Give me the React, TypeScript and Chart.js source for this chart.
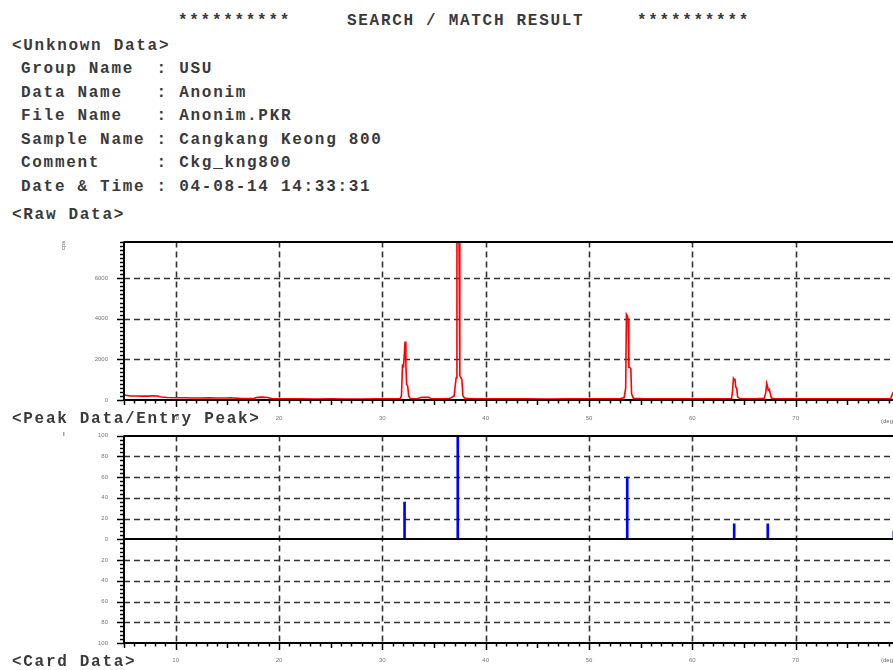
import React, { useEffect, useRef } from "react";
import { Chart, registerables } from "chart.js";
Chart.register(...registerables);

// ---------- data ----------
const rawAngle = [
  5.0, 5.2, 5.6, 6.2, 6.8, 7.4, 7.8, 8.2, 8.6, 9.2, 10.0, 10.8, 11.6, 12.4, 13.2, 14.0, 14.8, 15.4, 15.8,
  16.4, 17.0, 17.6, 17.9, 18.4, 18.9, 19.3, 20.5, 22.0, 23.5, 25.0, 26.5, 28.0, 29.5, 31.0, 31.7,
  31.85, 31.95, 32.05, 32.12, 32.2, 32.28, 32.35, 32.45, 32.55, 32.7, 33.4, 33.7, 34.0, 34.5, 34.7,
  35.5, 36.5, 36.95, 37.05, 37.15, 37.22, 37.3, 37.42, 37.5, 37.6, 37.7, 37.8, 38.0, 39.0, 40.5,
  42.0, 44.0, 46.0, 48.0, 50.0, 51.5, 53.0, 53.4, 53.55, 53.62, 53.7, 53.78, 53.86, 53.95, 54.05,
  54.12, 54.3, 55.5, 57.0, 59.0, 61.0, 63.0, 63.8, 63.9, 63.98, 64.05, 64.12, 64.2, 64.3, 64.38,
  64.6, 66.0, 66.95, 67.1, 67.2, 67.28, 67.35, 67.45, 67.55, 67.65, 68.0, 70.0, 72.0, 74.0, 76.0,
  78.0, 79.2, 79.4, 79.5, 79.6, 79.8, 80.0,
];
const rawCps = [
  260, 230, 200, 200, 190, 190, 210, 200, 150, 120, 110, 110, 100, 100, 110, 100, 100, 110, 90,
  70, 70, 80, 130, 140, 120, 70, 60, 60, 50, 60, 50, 50, 60, 55, 60,
  200, 1700, 1650, 2200, 2880, 1750, 760, 700, 200, 70, 60, 120, 130, 130, 70,
  60, 70, 200, 700, 1100, 9000, 10000, 8000, 1200, 1100, 1000, 200, 80, 60, 60,
  55, 60, 50, 60, 55, 60, 60, 120, 600, 4220, 4150, 4000, 1600, 1600, 1550,
  300, 80, 60, 55, 60, 55, 60, 70, 500, 1060, 1000, 1050, 650, 550, 150,
  60, 60, 80, 350, 810, 650, 480, 520, 300, 100, 60, 55, 60, 55, 60,
  60, 70, 350, 420, 330, 200, 100,
];

const peakAngle = [32.15, 37.3, 53.7, 64.05, 67.3, 79.5];
const peakIntensity = [36, 100, 60, 15, 15, 8];

const X_MIN = 5;
const X_MAX = 80;
const RAW_MAX = 7800;
const rawYTickValues = [0, 2000, 4000, 6000];
const rawYGrid = [2000, 4000, 6000];
const peakYTickValues = [-100, -80, -60, -40, -20, 0, 20, 40, 60, 80, 100];
const peakYGrid = [-80, -60, -40, -20, 20, 40, 60, 80];
const xTickValues = [10, 20, 30, 40, 50, 60, 70, 80];

const headerLines: [string, number, number][] = [
  ["**********", 178, 21],
  ["SEARCH / MATCH RESULT", 347, 21],
  ["**********", 637, 21],
  ["<Unknown Data>", 12, 46],
  ["Group Name  : USU", 21, 69],
  ["Data Name   : Anonim", 21, 93],
  ["File Name   : Anonim.PKR", 21, 116],
  ["Sample Name : Cangkang Keong 800", 21, 140],
  ["Comment     : Ckg_kng800", 21, 163],
  ["Date & Time : 04-08-14 14:33:31", 21, 187],
  ["<Raw Data>", 12, 215],
  ["<Peak Data/Entry Peak>", 12, 419],
  ["<Card Data>", 12, 662],
];

// ---------- decoration plugin ----------
type DecoCfg = {
  yMin: number;
  yMax: number;
  yMinorStep: number;
  yMajorStep: number;
  dashedY: number[];
  solidY: number[];
};

function makeDeco(cfg: DecoCfg) {
  return {
    id: "deco",
    beforeDatasetsDraw(chart: any) {
      const { ctx, chartArea: a, scales } = chart;
      const x = scales.x;
      const y = scales.y;
      ctx.save();
      ctx.strokeStyle = "#333";
      ctx.lineWidth = 1.6;
      ctx.setLineDash([6, 4]);
      for (const v of xTickValues) {
        const px = Math.round(x.getPixelForValue(v)) + 0.5;
        ctx.beginPath();
        ctx.moveTo(px, a.top);
        ctx.lineTo(px, a.bottom);
        ctx.stroke();
      }
      for (const v of cfg.dashedY) {
        const py = Math.round(y.getPixelForValue(v)) + 0.5;
        ctx.beginPath();
        ctx.moveTo(a.left, py);
        ctx.lineTo(a.right, py);
        ctx.stroke();
      }
      ctx.restore();
    },
    afterDatasetsDraw(chart: any) {
      const { ctx, chartArea: a, scales } = chart;
      const x = scales.x;
      const y = scales.y;
      ctx.save();
      ctx.setLineDash([]);
      ctx.strokeStyle = "#000";
      ctx.lineWidth = 2;
      for (const v of cfg.solidY) {
        const py = Math.round(y.getPixelForValue(v));
        ctx.beginPath();
        ctx.moveTo(a.left, py);
        ctx.lineTo(a.right, py);
        ctx.stroke();
      }
      ctx.beginPath();
      ctx.moveTo(a.left, a.top);
      ctx.lineTo(a.left, a.bottom + 1);
      ctx.stroke();
      // ticks
      ctx.lineWidth = 1.5;
      const by = Math.round(y.getPixelForValue(cfg.yMin));
      for (let v = X_MIN; v <= X_MAX; v += 1) {
        const px = Math.round(x.getPixelForValue(v)) + 0.5;
        const len = v % 10 === 0 ? 7 : v % 5 === 0 ? 5 : 3.5;
        ctx.beginPath();
        ctx.moveTo(px, by);
        ctx.lineTo(px, by + len);
        ctx.stroke();
      }
      for (let v = cfg.yMin; v <= cfg.yMax + 1e-6; v += cfg.yMinorStep) {
        const py = Math.round(y.getPixelForValue(v)) + 0.5;
        const len = Math.abs(v % cfg.yMajorStep) < 1e-6 ? 7 : 4;
        ctx.beginPath();
        ctx.moveTo(a.left, py);
        ctx.lineTo(a.left - len, py);
        ctx.stroke();
      }
      ctx.restore();
    },
  };
}

const tickFont = { size: 6, family: "Arial, Liberation Sans, sans-serif" };
const setTicks = (vals: number[]) => (s: any) => {
  s.ticks = vals.map((v) => ({ value: v }));
};

function xScale(padding: number) {
  return {
    type: "linear",
    min: X_MIN,
    max: X_MAX,
    offset: false,
    grid: { display: false },
    border: { display: false },
    afterBuildTicks: setTicks(xTickValues),
    ticks: { font: tickFont, color: "#777", padding, maxRotation: 0, autoSkip: false, callback: (v: any) => String(v) },
    afterFit: (s: any) => {
      s.height = 20;
    },
  };
}

function RawChart() {
  const ref = useRef<HTMLCanvasElement>(null);
  useEffect(() => {
    const chart = new Chart(ref.current!, {
      type: "line",
      data: {
        datasets: [
          {
            data: rawAngle.map((a, i) => ({ x: a, y: rawCps[i] })),
            borderColor: "#ff0000",
            borderWidth: 1.6,
            pointRadius: 0,
            tension: 0,
          },
        ],
      },
      options: {
        animation: false,
        responsive: false,
        events: [],
        layout: { padding: { top: 8, right: 11, left: 0, bottom: 0 } },
        plugins: { legend: { display: false }, tooltip: { enabled: false } },
        scales: {
          x: xScale(7),
          y: {
            min: 0,
            max: RAW_MAX,
            grid: { display: false },
            border: { display: false },
            afterBuildTicks: setTicks(rawYTickValues),
            ticks: { font: tickFont, color: "#777", padding: 8, autoSkip: false, callback: (v: any) => String(v) },
            afterFit: (s: any) => {
              s.width = 64;
            },
          },
        },
      } as any,
      plugins: [
        makeDeco({ yMin: 0, yMax: RAW_MAX, yMinorStep: 200, yMajorStep: 2000, dashedY: rawYGrid, solidY: [0, RAW_MAX] }),
      ],
    });
    return () => chart.destroy();
  }, []);
  return (
    <canvas
      ref={ref}
      width={850}
      height={190}
      style={{ position: "absolute", left: 60, top: 230, width: 850, height: 190 }}
    />
  );
}

function PeakChart() {
  const ref = useRef<HTMLCanvasElement>(null);
  useEffect(() => {
    const chart = new Chart(ref.current!, {
      type: "bar",
      data: {
        datasets: [
          {
            data: peakAngle.map((a, i) => ({ x: a, y: peakIntensity[i] })),
            backgroundColor: "#0000ff",
            borderWidth: 0,
            barThickness: 2,
          },
        ],
      },
      options: {
        animation: false,
        responsive: false,
        events: [],
        layout: { padding: { top: 8, right: 11, left: 0, bottom: 0 } },
        plugins: { legend: { display: false }, tooltip: { enabled: false } },
        scales: {
          x: xScale(6),
          y: {
            min: -100,
            max: 100,
            grid: { display: false },
            border: { display: false },
            afterBuildTicks: setTicks(peakYTickValues),
            ticks: {
              font: tickFont,
              color: "#777",
              padding: 8,
              autoSkip: false,
              callback: (v: any) => String(Math.abs(Number(v))),
            },
            afterFit: (s: any) => {
              s.width = 64;
            },
          },
        },
      } as any,
      plugins: [
        makeDeco({ yMin: -100, yMax: 100, yMinorStep: 4, yMajorStep: 20, dashedY: peakYGrid, solidY: [-100, 0, 100] }),
      ],
    });
    return () => chart.destroy();
  }, []);
  return (
    <canvas
      ref={ref}
      width={850}
      height={239}
      style={{ position: "absolute", left: 60, top: 424, width: 850, height: 239 }}
    />
  );
}

const textStyle: React.CSSProperties = {
  position: "absolute",
  height: 20,
  lineHeight: "20px",
  fontFamily: "'Liberation Mono', 'DejaVu Sans Mono', monospace",
  fontSize: 16,
  fontWeight: "bold",
  letterSpacing: "1.7px",
  color: "#3a3a3a",
  whiteSpace: "pre",
  zIndex: 2,
};

const tinyStyle: React.CSSProperties = {
  position: "absolute",
  fontFamily: "Arial, 'Liberation Sans', sans-serif",
  fontSize: 6,
  color: "#666",
  whiteSpace: "pre",
  zIndex: 2,
};

export default function App() {
  return (
    <div
      style={{
        position: "fixed",
        left: 0,
        top: 0,
        width: 893,
        height: 670,
        overflow: "hidden",
        background: "#fff",
      }}
    >
      {headerLines.map(([t, x, y], i) => (
        <div key={i} style={{ ...textStyle, left: x, top: y - 10 }}>
          {t}
        </div>
      ))}
      <RawChart />
      <PeakChart />
      <div style={{ ...tinyStyle, left: 60, top: 250, transform: "rotate(-90deg)", transformOrigin: "left top" }}>
        cps
      </div>
      <div style={{ ...tinyStyle, left: 63, top: 431, fontWeight: "bold" }}>I</div>
      <div style={{ ...tinyStyle, left: 881, top: 418 }}>(deg)</div>
      <div style={{ ...tinyStyle, left: 881, top: 657 }}>(deg)</div>
    </div>
  );
}
